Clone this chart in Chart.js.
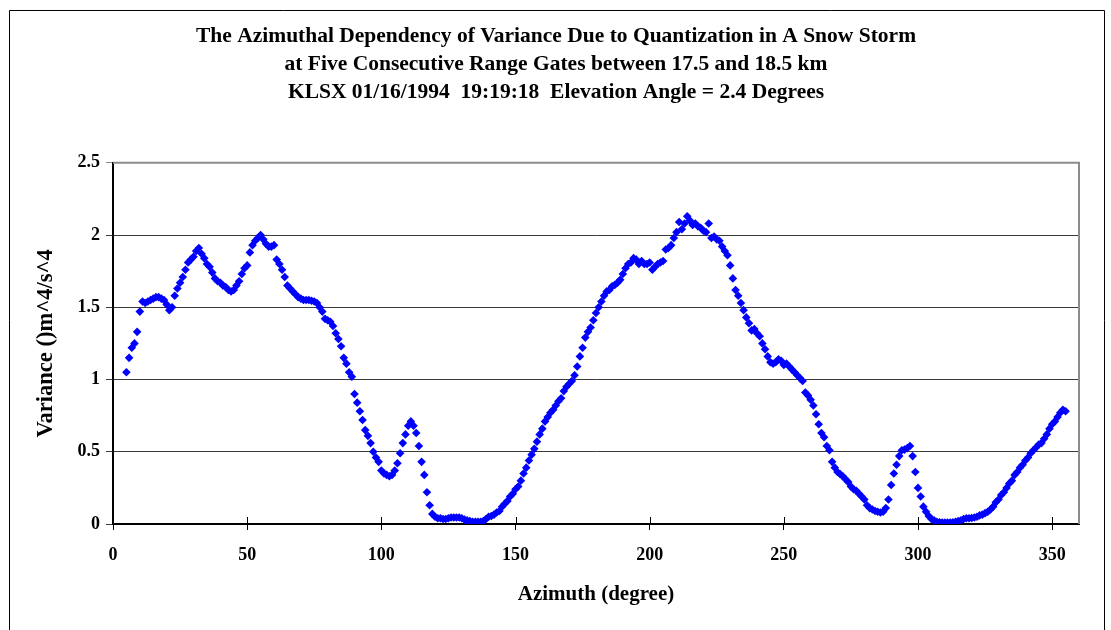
<!DOCTYPE html>
<html><head><meta charset="utf-8">
<script src="https://cdn.jsdelivr.net/npm/chart.js@4.4.0/dist/chart.umd.min.js"></script>
<style>html,body{margin:0;padding:0;background:#fff}#wrap{width:1111px;height:630px;position:relative}</style>
</head><body><div id="wrap"><canvas id="c" width="1111" height="630"></canvas></div>
<script>
const titleLines = [
  'The Azimuthal Dependency of Variance Due to Quantization in A Snow Storm',
  'at Five Consecutive Range Gates between 17.5 and 18.5 km',
  'KLSX 01/16/1994  19:19:18  Elevation Angle = 2.4 Degrees'
];
const xAxisTitle = 'Azimuth (degree)';
const yAxisTitle = 'Variance ()m^4/s^4';
const xTicks = [0, 50, 100, 150, 200, 250, 300, 350];
const yTicks = [0, 0.5, 1, 1.5, 2, 2.5];

const azimuth = [
  5,6,7,8,9,10,11,12,13,14,
  15,16,17,18,19,20,21,22,23,24,
  25,26,27,28,29,30,31,32,33,34,
  35,36,37,38,39,40,41,42,43,44,
  45,46,47,48,49,50,51,52,53,54,
  55,56,57,58,59,60,61,62,63,64,
  65,66,67,68,69,70,71,72,73,74,
  75,76,77,78,79,80,81,82,83,84,
  85,86,87,88,89,90,91,92,93,94,
  95,96,97,98,99,100,101,102,103,104,
  105,106,107,108,109,110,111,112,113,114,
  115,116,117,118,119,120,121,122,123,124,
  125,126,127,128,129,130,131,132,133,134,
  135,136,137,138,139,140,141,142,143,144,
  145,146,147,148,149,150,151,152,153,154,
  155,156,157,158,159,160,161,162,163,164,
  165,166,167,168,169,170,171,172,173,174,
  175,176,177,178,179,180,181,182,183,184,
  185,186,187,188,189,190,191,192,193,194,
  195,196,197,198,199,200,201,202,203,204,
  205,206,207,208,209,210,211,212,213,214,
  215,216,217,218,219,220,221,222,223,224,
  225,226,227,228,229,230,231,232,233,234,
  235,236,237,238,239,240,241,242,243,244,
  245,246,247,248,249,250,251,252,253,254,
  255,256,257,258,259,260,261,262,263,264,
  265,266,267,268,269,270,271,272,273,274,
  275,276,277,278,279,280,281,282,283,284,
  285,286,287,288,289,290,291,292,293,294,
  295,296,297,298,299,300,301,302,303,304,
  305,306,307,308,309,310,311,312,313,314,
  315,316,317,318,319,320,321,322,323,324,
  325,326,327,328,329,330,331,332,333,334,
  335,336,337,338,339,340,341,342,343,344,
  345,346,347,348,349,350,351,352,353,354,
  355
];

const variance = [
  1.05,1.15,1.22,1.25,1.33,1.47,1.54,1.53,1.54,1.55,
  1.56,1.57,1.57,1.56,1.55,1.52,1.48,1.50,1.58,1.63,
  1.67,1.71,1.76,1.81,1.83,1.85,1.89,1.91,1.87,1.84,
  1.80,1.78,1.74,1.70,1.68,1.67,1.65,1.64,1.62,1.61,
  1.62,1.65,1.68,1.73,1.77,1.79,1.88,1.93,1.96,1.98,
  2.00,1.97,1.94,1.92,1.92,1.93,1.83,1.80,1.76,1.71,
  1.65,1.63,1.61,1.59,1.57,1.56,1.55,1.55,1.55,1.545,
  1.54,1.53,1.50,1.47,1.42,1.41,1.40,1.37,1.32,1.28,
  1.23,1.15,1.11,1.05,1.02,0.90,0.84,0.78,0.72,0.65,
  0.61,0.56,0.50,0.46,0.43,0.37,0.35,0.34,0.33,0.34,
  0.37,0.42,0.49,0.56,0.62,0.68,0.71,0.68,0.63,0.54,
  0.43,0.34,0.22,0.13,0.07,0.05,0.04,0.04,0.035,0.035,
  0.04,0.045,0.045,0.045,0.045,0.04,0.03,0.025,0.02,0.015,
  0.015,0.015,0.015,0.02,0.035,0.05,0.055,0.065,0.08,0.09,
  0.12,0.14,0.16,0.19,0.21,0.24,0.26,0.30,0.35,0.39,
  0.44,0.48,0.52,0.57,0.62,0.66,0.71,0.74,0.77,0.79,
  0.82,0.85,0.87,0.92,0.95,0.97,0.99,1.03,1.09,1.16,
  1.22,1.29,1.33,1.36,1.41,1.46,1.50,1.54,1.58,1.61,
  1.62,1.645,1.655,1.67,1.69,1.73,1.77,1.80,1.81,1.84,
  1.83,1.80,1.82,1.80,1.80,1.81,1.76,1.78,1.80,1.81,
  1.82,1.90,1.91,1.93,1.98,2.02,2.09,2.04,2.08,2.13,
  2.10,2.07,2.08,2.06,2.05,2.03,2.02,2.08,1.98,1.99,
  1.97,1.96,1.92,1.89,1.86,1.79,1.70,1.62,1.58,1.53,
  1.48,1.43,1.39,1.34,1.35,1.32,1.30,1.25,1.21,1.16,
  1.12,1.11,1.12,1.14,1.13,1.10,1.11,1.09,1.07,1.05,
  1.03,1.01,0.99,0.91,0.89,0.86,0.82,0.76,0.69,0.63,
  0.60,0.54,0.51,0.43,0.39,0.36,0.345,0.33,0.31,0.29,
  0.26,0.24,0.23,0.21,0.19,0.17,0.13,0.11,0.10,0.09,
  0.085,0.08,0.085,0.11,0.17,0.27,0.35,0.41,0.47,0.51,
  0.515,0.525,0.54,0.47,0.36,0.25,0.19,0.12,0.085,0.055,
  0.035,0.025,0.015,0.012,0.01,0.01,0.01,0.01,0.012,0.015,
  0.02,0.025,0.035,0.04,0.04,0.042,0.045,0.05,0.06,0.065,
  0.075,0.085,0.10,0.12,0.15,0.17,0.20,0.22,0.25,0.28,
  0.30,0.34,0.36,0.39,0.41,0.44,0.46,0.49,0.51,0.53,
  0.55,0.56,0.59,0.62,0.66,0.69,0.71,0.74,0.77,0.79,
  0.78
];

const FAMILY = '"Liberation Serif", "Times New Roman", Times, serif';
const points = azimuth.map((a, i) => ({x: a, y: variance[i]}));

const framePlugin = {
  id: 'frame',
  beforeDraw(chart) {
    const ctx = chart.ctx;
    ctx.save();
    ctx.fillStyle = '#fff';
    ctx.fillRect(0, 0, chart.width, chart.height);
    ctx.strokeStyle = '#000';
    ctx.lineWidth = 1;
    ctx.beginPath();
    ctx.moveTo(9.5, 640); ctx.lineTo(9.5, 10.5); ctx.lineTo(1104.5, 10.5); ctx.lineTo(1104.5, 640);
    ctx.stroke();
    ctx.restore();
  },
  beforeDatasetsDraw(chart) {
    const ctx = chart.ctx;
    const a = chart.chartArea;
    const xs = chart.scales.x;
    ctx.save();
    ctx.strokeStyle = '#8c8c8c';
    ctx.lineWidth = 2;
    ctx.beginPath();
    ctx.moveTo(a.left, a.top); ctx.lineTo(a.right, a.top); ctx.lineTo(a.right, a.bottom);
    ctx.stroke();
    ctx.strokeStyle = '#000';
    ctx.lineWidth = 1;
    ctx.beginPath();
    xTicks.forEach(v => {
      const px = Math.round(xs.getPixelForValue(v)) + 0.5;
      ctx.moveTo(px, a.bottom - 7); ctx.lineTo(px, a.bottom);
    });
    ctx.stroke();
    ctx.restore();
  }
};

new Chart(document.getElementById('c'), {
  type: 'scatter',
  data: {
    datasets: [{
      data: points,
      pointStyle: 'rectRot',
      pointRadius: 4.3,
      pointHoverRadius: 4.3,
      backgroundColor: '#0000ff',
      borderColor: '#0000ff',
      borderWidth: 0
    }]
  },
  options: {
    responsive: false,
    animation: false,
    devicePixelRatio: 1,
    layout: {padding: {left: 33, right: 32, top: 0, bottom: 0}},
    plugins: {
      legend: {display: false},
      tooltip: {enabled: false},
      title: {
        display: true,
        text: titleLines,
        color: '#000',
        font: {family: FAMILY, size: 21.5, weight: 'bold', lineHeight: '27.6px'},
        padding: {top: 23, bottom: 57}
      }
    },
    scales: {
      x: {
        type: 'linear',
        min: 0, max: 360,
        afterBuildTicks: s => { s.ticks = xTicks.map(v => ({value: v})); },
        afterFit: s => { s.height = 106; },
        ticks: {color: '#000', font: {family: FAMILY, size: 18, weight: 'bold'}, padding: 15, maxRotation: 0, autoSkip: false, includeBounds: false,
          callback: v => String(v)},
        grid: {drawOnChartArea: false, drawTicks: true, tickLength: 6, color: '#000', lineWidth: 1},
        border: {display: true, color: '#000', width: 2},
        title: {display: true, text: xAxisTitle, color: '#000', font: {family: FAMILY, size: 21, weight: 'bold', lineHeight: 1.2}, padding: {top: 0, bottom: 23}}
      },
      y: {
        type: 'linear',
        min: 0, max: 2.5,
        afterBuildTicks: s => { s.ticks = yTicks.map(v => ({value: v})); },
        afterFit: s => { s.width = 80; },
        ticks: {color: '#000', font: {family: FAMILY, size: 18, weight: 'bold'}, padding: 6,
          callback: v => String(v)},
        grid: {
          drawTicks: true, tickLength: 7,
          color: c => (c.tick && c.tick.value === 2.5) ? '#8c8c8c' : '#3c3c3c',
          lineWidth: 1
        },
        border: {display: true, color: '#000', width: 2},
        title: {display: true, text: yAxisTitle, color: '#000', font: {family: FAMILY, size: 22.5, weight: 'bold', lineHeight: 1.2}, padding: {top: 0, bottom: 0}}
      }
    }
  },
  plugins: [framePlugin]
});
</script>
</body></html>
